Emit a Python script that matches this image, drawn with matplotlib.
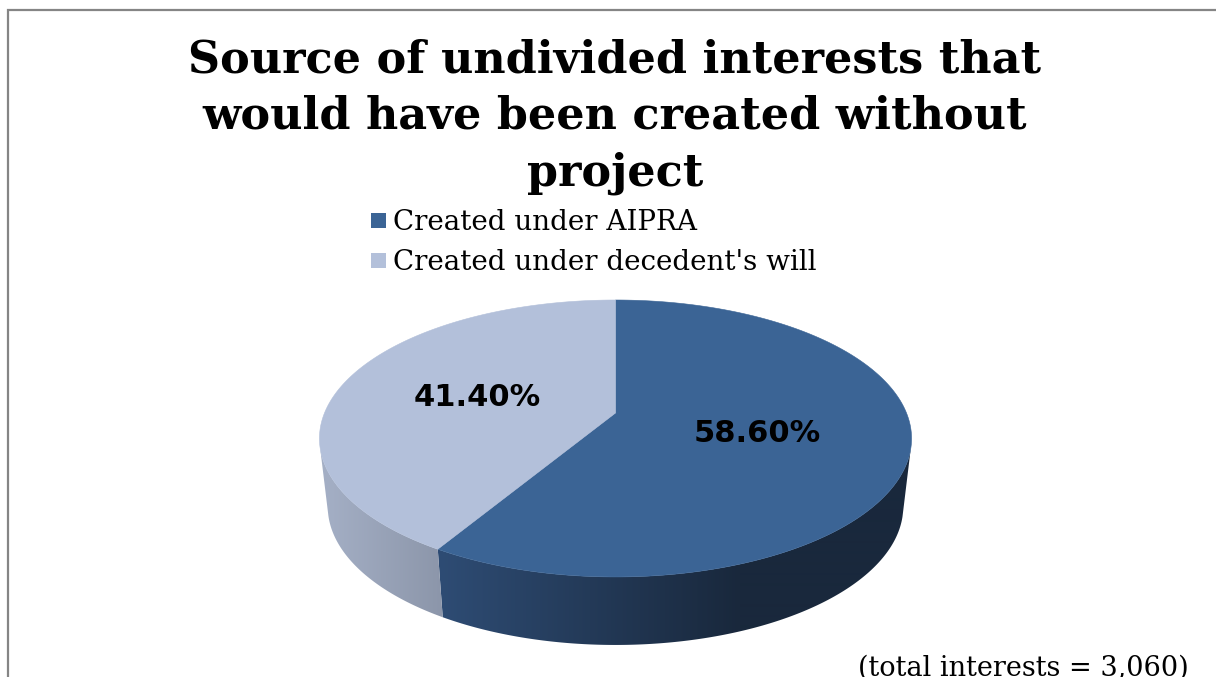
import numpy as np
import matplotlib
matplotlib.use("Agg")
import matplotlib.pyplot as plt
from matplotlib.patches import Polygon, Rectangle

# Chart content
title_lines = ["Source of undivided interests that",
               "would have been created without",
               "project"]
categories = ["Created under AIPRA", "Created under decedent's will"]
shares = [58.60, 41.40]
footnote = "(total interests = 3,060)"

# Styling
top_colors = ["#3b6495", "#b3c0da"]
wall_left_colors = [np.array([46, 76, 116]), np.array([164, 175, 197])]
wall_right_colors = [np.array([25, 40, 60]), np.array([140, 150, 170])]
wall_fade_span = [(440, 740), (325, 442)]

W, H = 1216, 677
fig = plt.figure(figsize=(W / 100, H / 100), dpi=100, facecolor="white")
ax = fig.add_axes([0, 0, 1, 1])

# Perspective projection of the unit disc onto the tilted pie top
CX, CY, K = 615.5, 413.0, 291.0
PA, PC = -57.8, 0.184
DEPTH, SHRINK = 68.0, 0.972


def project(theta):
    u, v = np.cos(theta), np.sin(theta)
    d = PC * v + 1
    return CX + K * u / d, (PA * v + CY) / d


def project_bottom(theta):
    x, y = project(theta)
    return CX + SHRINK * (x - CX), y + DEPTH


# Slice angles run clockwise from twelve o'clock
edges = np.pi / 2 - 2 * np.pi * np.cumsum([0] + shares) / sum(shares)

# Outer wall: a horizontal shading ramp clipped to the front of each slice
VISIBLE_V = -0.25
for i in range(len(shares)):
    a = np.linspace(edges[i], edges[i + 1], 1500)
    a = a[np.sin(a) <= VISIBLE_V]
    xt, yt = project(a)
    xb, yb = project_bottom(a)
    outline = np.vstack([np.column_stack([xt, yt]),
                         np.column_stack([xb, yb])[::-1]])
    x0, x1 = wall_fade_span[i]
    f = np.clip((np.arange(W) + 0.5 - x0) / (x1 - x0), 0, 1)[None, :, None]
    ramp = (wall_left_colors[i] * (1 - f) + wall_right_colors[i] * f) / 255
    img = ax.imshow(ramp, extent=(0, W, H, 0), aspect="auto", zorder=2,
                    interpolation="bilinear")
    patch = Polygon(outline, closed=True, transform=ax.transData,
                    facecolor="none", edgecolor="none")
    ax.add_patch(patch)
    img.set_clip_path(patch)

# Top faces
for i in range(len(shares)):
    a = np.linspace(edges[i], edges[i + 1], 400)
    x, y = project(a)
    pts = np.vstack([[CX, CY], np.column_stack([x, y])])
    ax.add_patch(Polygon(pts, closed=True, facecolor=top_colors[i],
                         edgecolor=top_colors[i], lw=0.4, zorder=3))

ax.set_xlim(0, W)
ax.set_ylim(H, 0)
ax.axis("off")

# Slice labels
label_pos = [(757, 433), (477, 397)]
for (lx, ly), v in zip(label_pos, shares):
    ax.text(lx, ly, f"{v:.2f}%", ha="center", va="center", fontsize=22,
            fontweight="bold", family="DejaVu Sans", color="black", zorder=4)

# Title
for y, line in zip([60, 116, 173], title_lines):
    ax.text(615, y, line, ha="center", va="center", fontsize=32,
            fontweight="bold", family="DejaVu Serif", color="black")

# Legend
for y, name, col in zip([221, 261], categories, top_colors):
    ax.add_patch(Rectangle((371, y - 8), 15, 15, facecolor=col, edgecolor="none"))
    ax.text(393, y + 1, name, ha="left", va="center", fontsize=20,
            family="DejaVu Serif", color="black")

# Footnote, running past the lower edge of the canvas
ax.text(858, 668, footnote, ha="left", va="center", fontsize=19.5,
        family="DejaVu Serif", color="black")

# Chart area border
ax.plot([7.5, 7.5, W], [H, 10, 10], color="#858585", lw=1.6, solid_joinstyle="miter")

fig.savefig("out.png", dpi=100)
